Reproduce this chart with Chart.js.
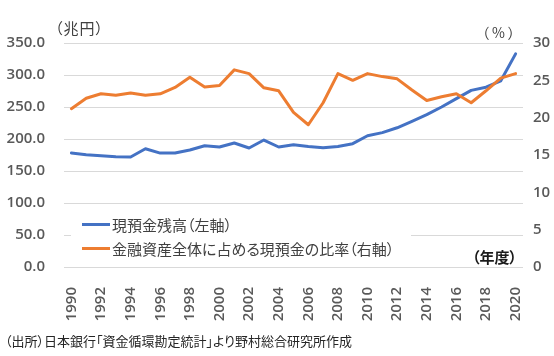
<!DOCTYPE html>
<html>
<head>
<meta charset="utf-8">
<script src="https://cdn.jsdelivr.net/npm/chart.js@4/dist/chart.umd.min.js"></script>
<style>
  html, body { margin: 0; padding: 0; background: #fff; }
  #wrap { position: relative; width: 554px; height: 356px; overflow: hidden; background: #fff; }
  #c { position: absolute; left: 0; top: 0; }
  .t { position: absolute; white-space: nowrap; font-family: "Noto Sans CJK JP", "Noto Sans", sans-serif; font-feature-settings: "palt"; }
  #legend { position: absolute; left: 71px; top: 211px; width: 340px; height: 51px; background: #fff; }
  .row { position: absolute; left: 0; height: 20px; display: flex; align-items: center; }
  .sw { width: 28px; height: 3px; margin-left: 11px; margin-right: 2px; }
  .lt { font-family: "Noto Sans CJK JP", sans-serif; font-feature-settings: "palt"; font-size: 15px; color: #404040; white-space: nowrap; }
</style>
</head>
<body>
<div id="wrap">
  <canvas id="c" width="580" height="356"></canvas>
  <div class="t" style="left:55px; top:18px; font-size:15px; line-height:20px; color:#404040; letter-spacing:1px;">（兆円）</div>
  <div class="t" style="left:482px; top:22px; font-size:14px; line-height:20px; color:#404040; letter-spacing:3px;">（%）</div>
  <div id="legend"></div>
  <div class="t" style="left:472px; top:247px; font-size:15px; line-height:20px; font-weight:bold; color:#1a1a1a;">（年度）</div>
  <div class="t" style="left:5px; top:332px; font-size:13px; line-height:18px; color:#262626;">（出所）日本銀行「資金循環勘定統計」より野村総合研究所作成</div>
</div>
<script>
const years = ["1990","1991","1992","1993","1994","1995","1996","1997","1998","1999","2000","2001","2002","2003","2004","2005","2006","2007","2008","2009","2010","2011","2012","2013","2014","2015","2016","2017","2018","2019","2020"];
const deposits = [178.1,175.5,174.0,172.3,171.9,184.8,178.0,178.0,182.8,189.5,187.5,193.7,186.0,198.4,187.5,191.0,188.4,186.4,188.4,192.7,205.0,210.0,217.5,227.5,238.0,250.0,263.0,276.0,281.0,291.0,333.0];
const ratio = [21.2,22.6,23.2,23.0,23.3,23.0,23.2,24.05,25.4,24.1,24.3,26.4,25.9,24.0,23.6,20.7,19.05,22.0,25.9,25.0,25.9,25.5,25.2,23.7,22.3,22.8,23.2,22.0,23.6,25.3,25.9];
const seriesNames = ["現預金残高（左軸）", "金融資産全体に占める現預金の比率（右軸）"];
const seriesColors = ["#4472C4", "#ED7D31"];
const leftTicks = [0, 50, 100, 150, 200, 250, 300, 350];
const rightTicks = [0, 5, 10, 15, 20, 25, 30];

// HTML legend
const lg = document.getElementById('legend');
seriesNames.forEach((n, i) => {
  const r = document.createElement('div');
  r.className = 'row';
  r.style.top = (i === 0 ? 3 : 27) + 'px';
  const sw = document.createElement('div');
  sw.className = 'sw';
  sw.style.background = seriesColors[i];
  const tx = document.createElement('span');
  tx.className = 'lt';
  tx.textContent = n;
  r.appendChild(sw); r.appendChild(tx);
  lg.appendChild(r);
});

const tickFont = { family: "'Open Sans', 'Liberation Sans', sans-serif", size: 15, weight: '600' };
const tickColor = '#595959';

new Chart(document.getElementById('c'), {
  type: 'line',
  data: {
    labels: years,
    datasets: [
      { label: seriesNames[0], data: deposits, yAxisID: 'y', borderColor: seriesColors[0], backgroundColor: seriesColors[0], borderWidth: 3, pointRadius: 0, tension: 0, borderJoinStyle: 'round', borderCapStyle: 'round', order: 1 },
      { label: seriesNames[1], data: ratio, yAxisID: 'y1', borderColor: seriesColors[1], backgroundColor: seriesColors[1], borderWidth: 3, pointRadius: 0, tension: 0, borderJoinStyle: 'round', borderCapStyle: 'round', order: 0 }
    ]
  },
  options: {
    responsive: false,
    animation: false,
    devicePixelRatio: 1,
    layout: { padding: { top: 43, left: 0, right: 0, bottom: 0 } },
    plugins: { legend: { display: false }, tooltip: { enabled: false } },
    scales: {
      x: {
        type: 'category',
        offset: true,
        grid: { display: false },
        border: { display: false },
        ticks: {
          autoSkip: false, minRotation: 90, maxRotation: 90, padding: 12,
          color: tickColor, font: tickFont,
          callback: function(v, i) { return i % 2 === 0 ? years[i] : ''; }
        },
        afterFit: function(s) { s.height = 89; }
      },
      y: {
        position: 'left',
        min: 0, max: 350,
        afterBuildTicks: function(s) { s.ticks = leftTicks.map(v => ({ value: v })); },
        grid: { color: '#d9d9d9', lineWidth: 1, drawTicks: false },
        border: { display: false },
        ticks: { padding: 19, color: tickColor, font: tickFont, callback: v => Number(v).toFixed(1) },
        afterFit: function(s) { s.width = 64; }
      },
      y1: {
        position: 'right',
        min: 0, max: 30,
        afterBuildTicks: function(s) { s.ticks = rightTicks.map(v => ({ value: v })); },
        grid: { display: false, drawTicks: false },
        border: { display: false },
        ticks: { padding: 10, color: tickColor, font: tickFont },
        afterFit: function(s) { s.width = 57; }
      }
    }
  }
});
</script>
</body>
</html>
